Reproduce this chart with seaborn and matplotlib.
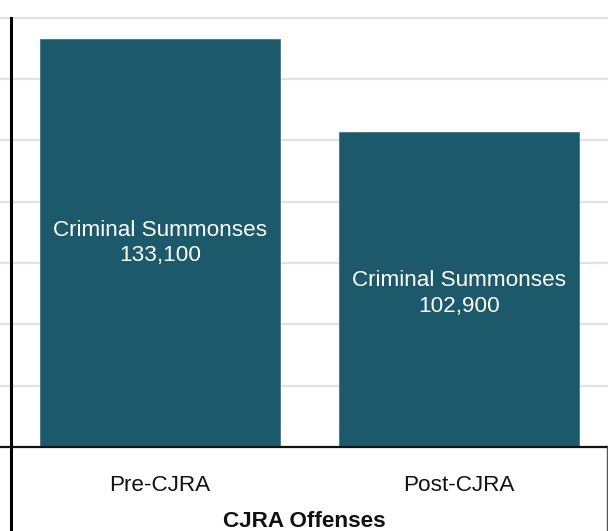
import matplotlib
matplotlib.use("Agg")
import matplotlib.pyplot as plt
import seaborn as sns
from matplotlib.lines import Line2D

periods = ["Pre-CJRA", "Post-CJRA"]
summonses = [133100, 102900]
bar_label = "Criminal Summonses"
x_title = "CJRA Offenses"
grid_ticks = [0, 20000, 40000, 60000, 80000, 100000, 120000, 140000]

sns.set_theme(style="white")
plt.rcParams["font.family"] = ["Liberation Sans", "DejaVu Sans"]

W, H = 608, 531
fig = plt.figure(figsize=(W / 100, H / 100), dpi=100)
fig.patch.set_facecolor("white")
ax = fig.add_axes([0, 84 / H, 1, 447 / H])

bar_color = "#1c5a6b"
sns.barplot(x=periods, y=summonses, color=bar_color, saturation=1, width=0.8,
            ax=ax, edgecolor="#3e7787", linewidth=0.6)

px_val = 133100 / 408.0
ax.set_ylim(0, 447 * px_val)
ax.set_xlim(-160 / 299, 1 + (608 - 459) / 299)

ax.set_yticks(grid_ticks)
ax.set_yticklabels([])
ax.yaxis.grid(True, color="#e2e2e2", linewidth=1.6)
ax.set_axisbelow(True)
ax.tick_params(axis="y", length=0)

for s in ["top", "right"]:
    ax.spines[s].set_visible(False)
ax.spines["bottom"].set_color("#111111")
ax.spines["bottom"].set_linewidth(1.6)
ax.spines["left"].set_color("#000000")
ax.spines["left"].set_linewidth(2.2)
ax.spines["left"].set_position(("axes", 10.5 / W))
ax.spines["left"].set_bounds(-90 * px_val, 140000)

fs = 16.2
ax.tick_params(axis="x", length=0, pad=20, labelsize=fs, labelcolor="#111111")
ax.set_xlabel(x_title, fontsize=fs, fontweight="bold", labelpad=11, color="#111111")
ax.set_ylabel("")

offsets = [0, -4 * px_val]
for i, v in enumerate(summonses):
    ax.text(i, v / 2 + offsets[i], f"{bar_label}\n{v:,}", ha="center", va="center",
            color="white", fontsize=fs, linespacing=1.3)

fig.add_artist(Line2D([607 / W, 607 / W], [0, 84 / H], color="#555555",
                      linewidth=1.0, transform=fig.transFigure))

fig.savefig("out.png", dpi=100, facecolor="white")
